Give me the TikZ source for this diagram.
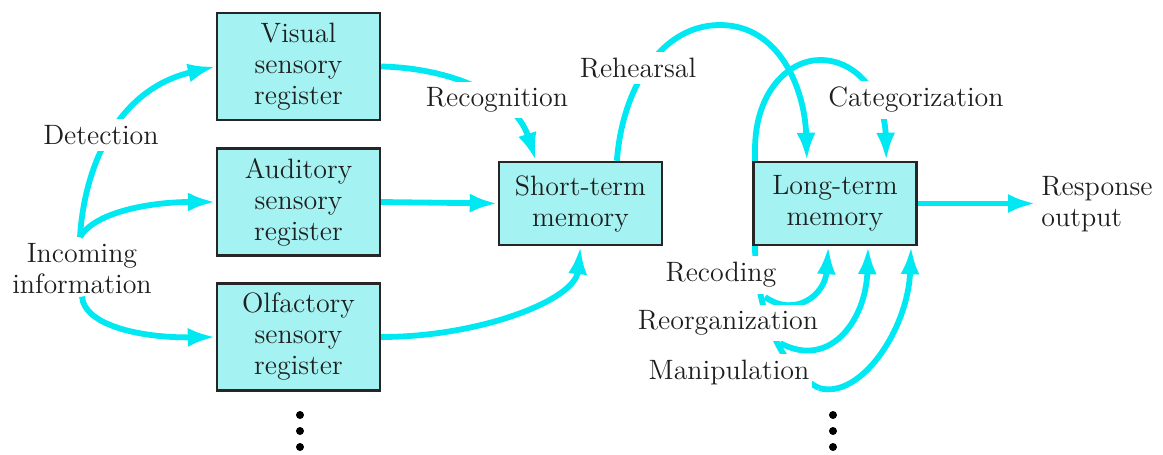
\documentclass[tikz,border=0pt]{standalone}
\usetikzlibrary{arrows.meta,calc}
\definecolor{cline}{RGB}{0,232,242}
\definecolor{cfill}{RGB}{165,242,242}
\definecolor{ctext}{RGB}{30,30,30}
\pgfdeclarelayer{bg}
\pgfsetlayers{bg,main}
\begin{document}
\begin{tikzpicture}[x=0.5pt,y=-0.5pt,
  txt/.style={font=\fontsize{14}{15.5}\selectfont, text=ctext, align=center},
  box/.style={txt, draw=black!85, line width=1.2pt, fill=cfill, minimum width=81.5pt, inner sep=0pt},
  tallbox/.style={box, minimum height=53.5pt},
  memobox/.style={box, minimum height=41.5pt},
  lbl/.style={txt, fill=white, inner xsep=1.5pt, inner ysep=3pt},
  conn/.style={draw=cline, line width=2.9pt},
  arr/.style={conn, -{Latex[length=14pt,width=9.5pt]}}
]
\useasboundingbox (0,0) rectangle (1163,455);

% boxes
\node[tallbox] (vis) at (298.5,66.5) {Visual\\sensory\\register};
\node[tallbox] (aud) at (298.5,202) {Auditory\\sensory\\register};
\node[tallbox] (olf) at (298.5,337) {Olfactory\\sensory\\register};
\node[memobox] (stm) at (580.5,203.5) {Short-term\\memory};
\node[memobox] (ltm) at (835,203.5) {Long-term\\memory};

% labels
\node[txt, inner sep=1pt] (inc) at (82,269) {Incoming\\information};
\node[lbl] (det) at (101,135) {Detection};
\node[lbl] (rec) at (497,100) {Recognition};
\node[lbl] (reh) at (638,68) {Rehearsal};
\node[lbl] (cat) at (916,100) {Categorization};
\node[lbl] (rcd) at (721,275) {Recoding};
\node[lbl] (reo) at (728,323) {Reorganization};
\node[lbl] (man) at (729,372) {Manipulation};
\node[txt, align=left, anchor=west, inner sep=0pt] (out) at (1041,204) {Response\\output};

% coordinates
\coordinate (j) at (80,237);
\coordinate (tb) at (819,388);
\coordinate (b1) at (765,297);
\coordinate (b2) at (780,343);
\coordinate (outend) at (1036,203.5);

\begin{pgfonlayer}{bg}
\draw[arr] (j) .. controls (84,170) and (115,90) .. (vis.west);
\draw[arr] (j) .. controls (95,212) and (150,202) .. (aud.west);
\draw[arr] (inc.south) .. controls (84,325) and (140,338) .. (olf.west);
\draw[arr] (vis.east) .. controls (450,68) and (515,95) .. ($(stm.north west)!0.23!(stm.north east)$);
\draw[arr] (aud.east) -- (stm.west);
\draw[arr] (olf.east) .. controls (480,337) and (575,300) .. (stm.south);
\draw[arr] ($(stm.north west)!0.72!(stm.north east)$) .. controls (622,90) and (660,25) .. (720,25)
   .. controls (780,25) and (805,90) .. ($(ltm.north west)!0.33!(ltm.north east)$);
\draw[arr] (tb) .. controls (785,372) and (758,320) .. (755,250) -- (755,150)
   .. controls (755,90) and (790,60) .. (820,60)
   .. controls (860,60) and (885,100) .. ($(ltm.north west)!0.81!(ltm.north east)$);
\draw[arr] (b1) .. controls (795,318) and (825,295) .. ($(ltm.south west)!0.46!(ltm.south east)$);
\draw[arr] (b2) .. controls (830,370) and (866,320) .. ($(ltm.south west)!0.70!(ltm.south east)$);
\draw[arr] (tb) .. controls (860,400) and (908,330) .. ($(ltm.south west)!0.96!(ltm.south east)$);
\draw[arr] (ltm.east) -- (outend);
\end{pgfonlayer}

% dots
\fill[black] (300,415) circle (4) (300,431) circle (4) (300,447) circle (4);
\fill[black] (833,415) circle (4) (833,431) circle (4) (833,447) circle (4);
\end{tikzpicture}
\end{document}
